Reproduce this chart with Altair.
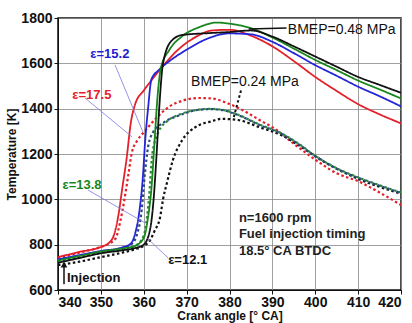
import altair as alt
import pandas as pd

# ---- BMEP = 0.48 MPa (solid) ----
red_hi_a = [340, 345, 350, 352, 353, 354, 355, 356, 357, 358, 360, 362, 365, 368, 372, 376, 380, 385, 390, 395, 400, 405, 410, 415, 420]
red_hi_t = [745, 768, 790, 810, 840, 920, 1050, 1180, 1340, 1420, 1480, 1530, 1600, 1660, 1715, 1745, 1748, 1722, 1675, 1610, 1540, 1478, 1420, 1375, 1335]

blue_hi_a = [340, 345, 350, 355, 357, 358, 359, 359.8, 360.3, 361, 361.8, 363.5, 366, 370, 375, 380, 385, 390, 395, 400, 405, 410, 415, 420]
blue_hi_t = [735, 754, 772, 788, 805, 850, 950, 1100, 1250, 1400, 1530, 1570, 1610, 1660, 1710, 1732, 1728, 1695, 1645, 1592, 1545, 1497, 1455, 1410]

green_hi_a = [340, 345, 350, 355, 358, 360, 361, 361.8, 362.5, 363.2, 364, 366, 369, 373, 377, 380, 385, 390, 395, 400, 405, 410, 415, 420]
green_hi_t = [730, 750, 770, 783, 795, 830, 920, 1050, 1250, 1450, 1580, 1660, 1720, 1760, 1780, 1775, 1755, 1714, 1665, 1615, 1570, 1524, 1485, 1445]

black_hi_a = [340, 345, 350, 355, 358, 360, 361.5, 362.3, 363, 363.6, 364.5, 366.5, 369, 375, 380, 385, 390, 395, 400, 405, 410, 415, 420]
black_hi_t = [720, 741, 762, 775, 785, 800, 870, 1000, 1200, 1400, 1600, 1700, 1725, 1733, 1738, 1745, 1718, 1675, 1630, 1585, 1540, 1505, 1470]

# ---- BMEP = 0.24 MPa (dotted) ----
red_lo_a = [340, 345, 350, 352, 353.5, 354.5, 355.5, 356.5, 357.2, 358.5, 360, 363, 366, 369, 373, 376, 379, 383, 387, 391, 395, 400, 405, 410, 415, 420]
red_lo_t = [740, 765, 790, 805, 830, 900, 1000, 1120, 1204, 1260, 1295, 1360, 1410, 1435, 1447, 1445, 1428, 1394, 1350, 1306, 1245, 1175, 1115, 1080, 1030, 975]

blue_lo_a = [340, 345, 350, 355, 357, 358.5, 359.5, 360.2, 361, 362.2, 364.5, 368.5, 372.5, 375.5, 378, 382, 387, 392, 396, 400, 405, 410, 415, 420]
blue_lo_t = [730, 748, 770, 785, 800, 850, 950, 1100, 1230, 1297, 1337, 1372, 1394, 1398, 1395, 1372, 1328, 1290, 1245, 1190, 1135, 1095, 1060, 1028]

green_lo_a = [340, 345, 350, 355, 358, 360, 361.2, 362, 363.5, 365.5, 368.5, 372.5, 375.5, 378, 382, 387, 392, 396, 400, 405, 410, 415, 420]
green_lo_t = [725, 745, 765, 780, 795, 840, 1000, 1200, 1300, 1345, 1375, 1395, 1399, 1396, 1373, 1330, 1292, 1247, 1192, 1137, 1097, 1062, 1030]

black_lo_a = [340, 345, 350, 355, 358, 360, 361.5, 362.5, 363.8, 364.5, 365.4, 366.8, 369, 372, 376, 378, 382, 387, 392, 396, 400, 405, 410, 415, 420]
black_lo_t = [710, 725, 745, 765, 780, 795, 820, 860, 920, 1000, 1072, 1173, 1262, 1318, 1345, 1355, 1350, 1318, 1284, 1240, 1190, 1135, 1090, 1055, 1025]

series = [
    ("red_lo", red_lo_a, red_lo_t),
    ("black_lo", black_lo_a, black_lo_t),
    ("green_lo", green_lo_a, green_lo_t),
    ("blue_lo", blue_lo_a, blue_lo_t),
    ("red_hi", red_hi_a, red_hi_t),
    ("blue_hi", blue_hi_a, blue_hi_t),
    ("green_hi", green_hi_a, green_hi_t),
    ("black_hi", black_hi_a, black_hi_t),
]
styles = {
    "red_hi": ("#e3202a", [1, 0]), "blue_hi": ("#2424d8", [1, 0]),
    "green_hi": ("#18861c", [1, 0]), "black_hi": ("#111111", [1, 0]),
    "red_lo": ("#e3202a", [2.5, 2.5]), "blue_lo": ("#2a4a7a", [2.5, 2.5]),
    "green_lo": ("#2a8a3a", [2.5, 2.5]), "black_lo": ("#111111", [2.5, 2.5]),
}

x_scale = alt.Scale(domain=[340, 420], nice=False, zero=False)
y_scale = alt.Scale(domain=[600, 1800], nice=False, zero=False)
x_ax = alt.Axis(values=list(range(340, 421, 10)), format="d", title="Crank angle [° CA]")
y_ax = alt.Axis(values=list(range(600, 1801, 200)), format="d", title="Temperature [K]")

layers = []
for name, a, t in series:
    df = pd.DataFrame({"angle": a, "T": t, "i": range(len(a))})
    col, dash = styles[name]
    layers.append(
        alt.Chart(df).mark_line(color=col, strokeDash=dash,
                                strokeWidth=2.2 if name.endswith("lo") else 1.8,
                                interpolate="monotone", clip=True)
        .encode(x=alt.X("angle:Q", scale=x_scale, axis=x_ax),
                y=alt.Y("T:Q", scale=y_scale, axis=y_ax),
                order="i:Q")
    )

# leader lines
lead_x = [353.3, 359.8, 346.3, 357.3, 347.0, 360.3, 360.8, 365.7]
lead_y = [1593, 1297, 1447, 1275, 1041, 896, 829, 741]
lead_g = ["a", "a", "b", "b", "c", "c", "d", "d"]
leaders = alt.Chart(pd.DataFrame({"angle": lead_x, "T": lead_y, "g": lead_g})).mark_line(
    color="#7a7ae0", strokeWidth=0.8).encode(x=alt.X("angle:Q", scale=x_scale), y=alt.Y("T:Q", scale=y_scale), detail="g:N")
layers.append(leaders)

bm_x = [384.5, 393.3]
bm_y = [1751, 1756]
layers.append(alt.Chart(pd.DataFrame({"angle": bm_x, "T": bm_y})).mark_line(color="#111", strokeWidth=1.5)
              .encode(x=alt.X("angle:Q", scale=x_scale), y=alt.Y("T:Q", scale=y_scale)))
bl_x = [382.7, 381.0]
bl_y = [1482, 1363]
layers.append(alt.Chart(pd.DataFrame({"angle": bl_x, "T": bl_y})).mark_line(color="#111", strokeWidth=2, strokeDash=[2.5, 2.5])
              .encode(x=alt.X("angle:Q", scale=x_scale), y=alt.Y("T:Q", scale=y_scale)))

# injection arrow
inj_x = [341.4, 341.4]
inj_y = [625, 705]
layers.append(alt.Chart(pd.DataFrame({"angle": inj_x, "T": inj_y})).mark_line(color="#111", strokeWidth=1.5)
              .encode(x=alt.X("angle:Q", scale=x_scale), y=alt.Y("T:Q", scale=y_scale)))
layers.append(alt.Chart(pd.DataFrame({"angle": [341.4], "T": [712]})).mark_point(
    shape="triangle-up", filled=True, color="#111", size=45, opacity=1)
    .encode(x=alt.X("angle:Q", scale=x_scale), y=alt.Y("T:Q", scale=y_scale)))

# labels
lab_text = ["ε=15.2", "ε=17.5", "ε=13.8", "ε=12.1", "Injection"]
lab_x = [352.1, 347.9, 345.6, 365.7, 342.1]
lab_y = [1641, 1460, 1063, 732, 653]
lab_col = ["#2020d0", "#e3202a", "#18861c", "#111111", "#111111"]
lab_align = ["center", "center", "center", "left", "left"]
for tx, xx, yy, cc, al in zip(lab_text, lab_x, lab_y, lab_col, lab_align):
    layers.append(alt.Chart(pd.DataFrame({"angle": [xx], "T": [yy], "s": [tx]})).mark_text(
        font="Liberation Sans", fontWeight="bold", fontSize=13, color=cc, align=al, baseline="middle")
        .encode(x=alt.X("angle:Q", scale=x_scale), y=alt.Y("T:Q", scale=y_scale), text="s:N"))

bmep_text = ["BMEP=0.48 MPa", "BMEP=0.24 MPa"]
bmep_x = [393.6, 383.6]
bmep_y = [1747, 1518]
bmep_align = ["left", "center"]
for tx, xx, yy, al in zip(bmep_text, bmep_x, bmep_y, bmep_align):
    layers.append(alt.Chart(pd.DataFrame({"angle": [xx], "T": [yy], "s": [tx]})).mark_text(
        font="Liberation Sans", fontSize=14, color="#111", align=al, baseline="middle")
        .encode(x=alt.X("angle:Q", scale=x_scale), y=alt.Y("T:Q", scale=y_scale), text="s:N"))

cond_text = ["n=1600 rpm", "Fuel injection timing", "18.5° CA BTDC"]
cond_x = [382.2, 382.2, 382.2]
cond_y = [918, 847, 772]
layers.append(alt.Chart(pd.DataFrame({"angle": cond_x, "T": cond_y, "s": cond_text})).mark_text(
    font="Liberation Sans", fontWeight="bold", fontSize=13, color="#222", align="left", baseline="middle")
    .encode(x=alt.X("angle:Q", scale=x_scale), y=alt.Y("T:Q", scale=y_scale), text="s:N"))

chart = alt.layer(*layers).properties(
    width=343, height=272,
    autosize=alt.AutoSizeParams(type="none"),
    padding={"left": 58, "top": 18, "right": 11, "bottom": 33},
).configure_view(stroke="#111", strokeWidth=1.5).configure_axis(
    grid=True, gridColor="#888", gridWidth=0.8,
    domainColor="#111", tickColor="#111", tickSize=4,
    labelFont="Liberation Sans", labelFontWeight="bold", labelFontSize=14, labelColor="#111",
    titleFont="Liberation Sans", titleFontWeight="bold", titleFontSize=12, titleColor="#111",
).configure_axisX(labelPadding=1, titlePadding=1).configure_axisY(labelPadding=2, titlePadding=2)

chart.save("out.html", embed_options={"renderer": "svg", "actions": False})
